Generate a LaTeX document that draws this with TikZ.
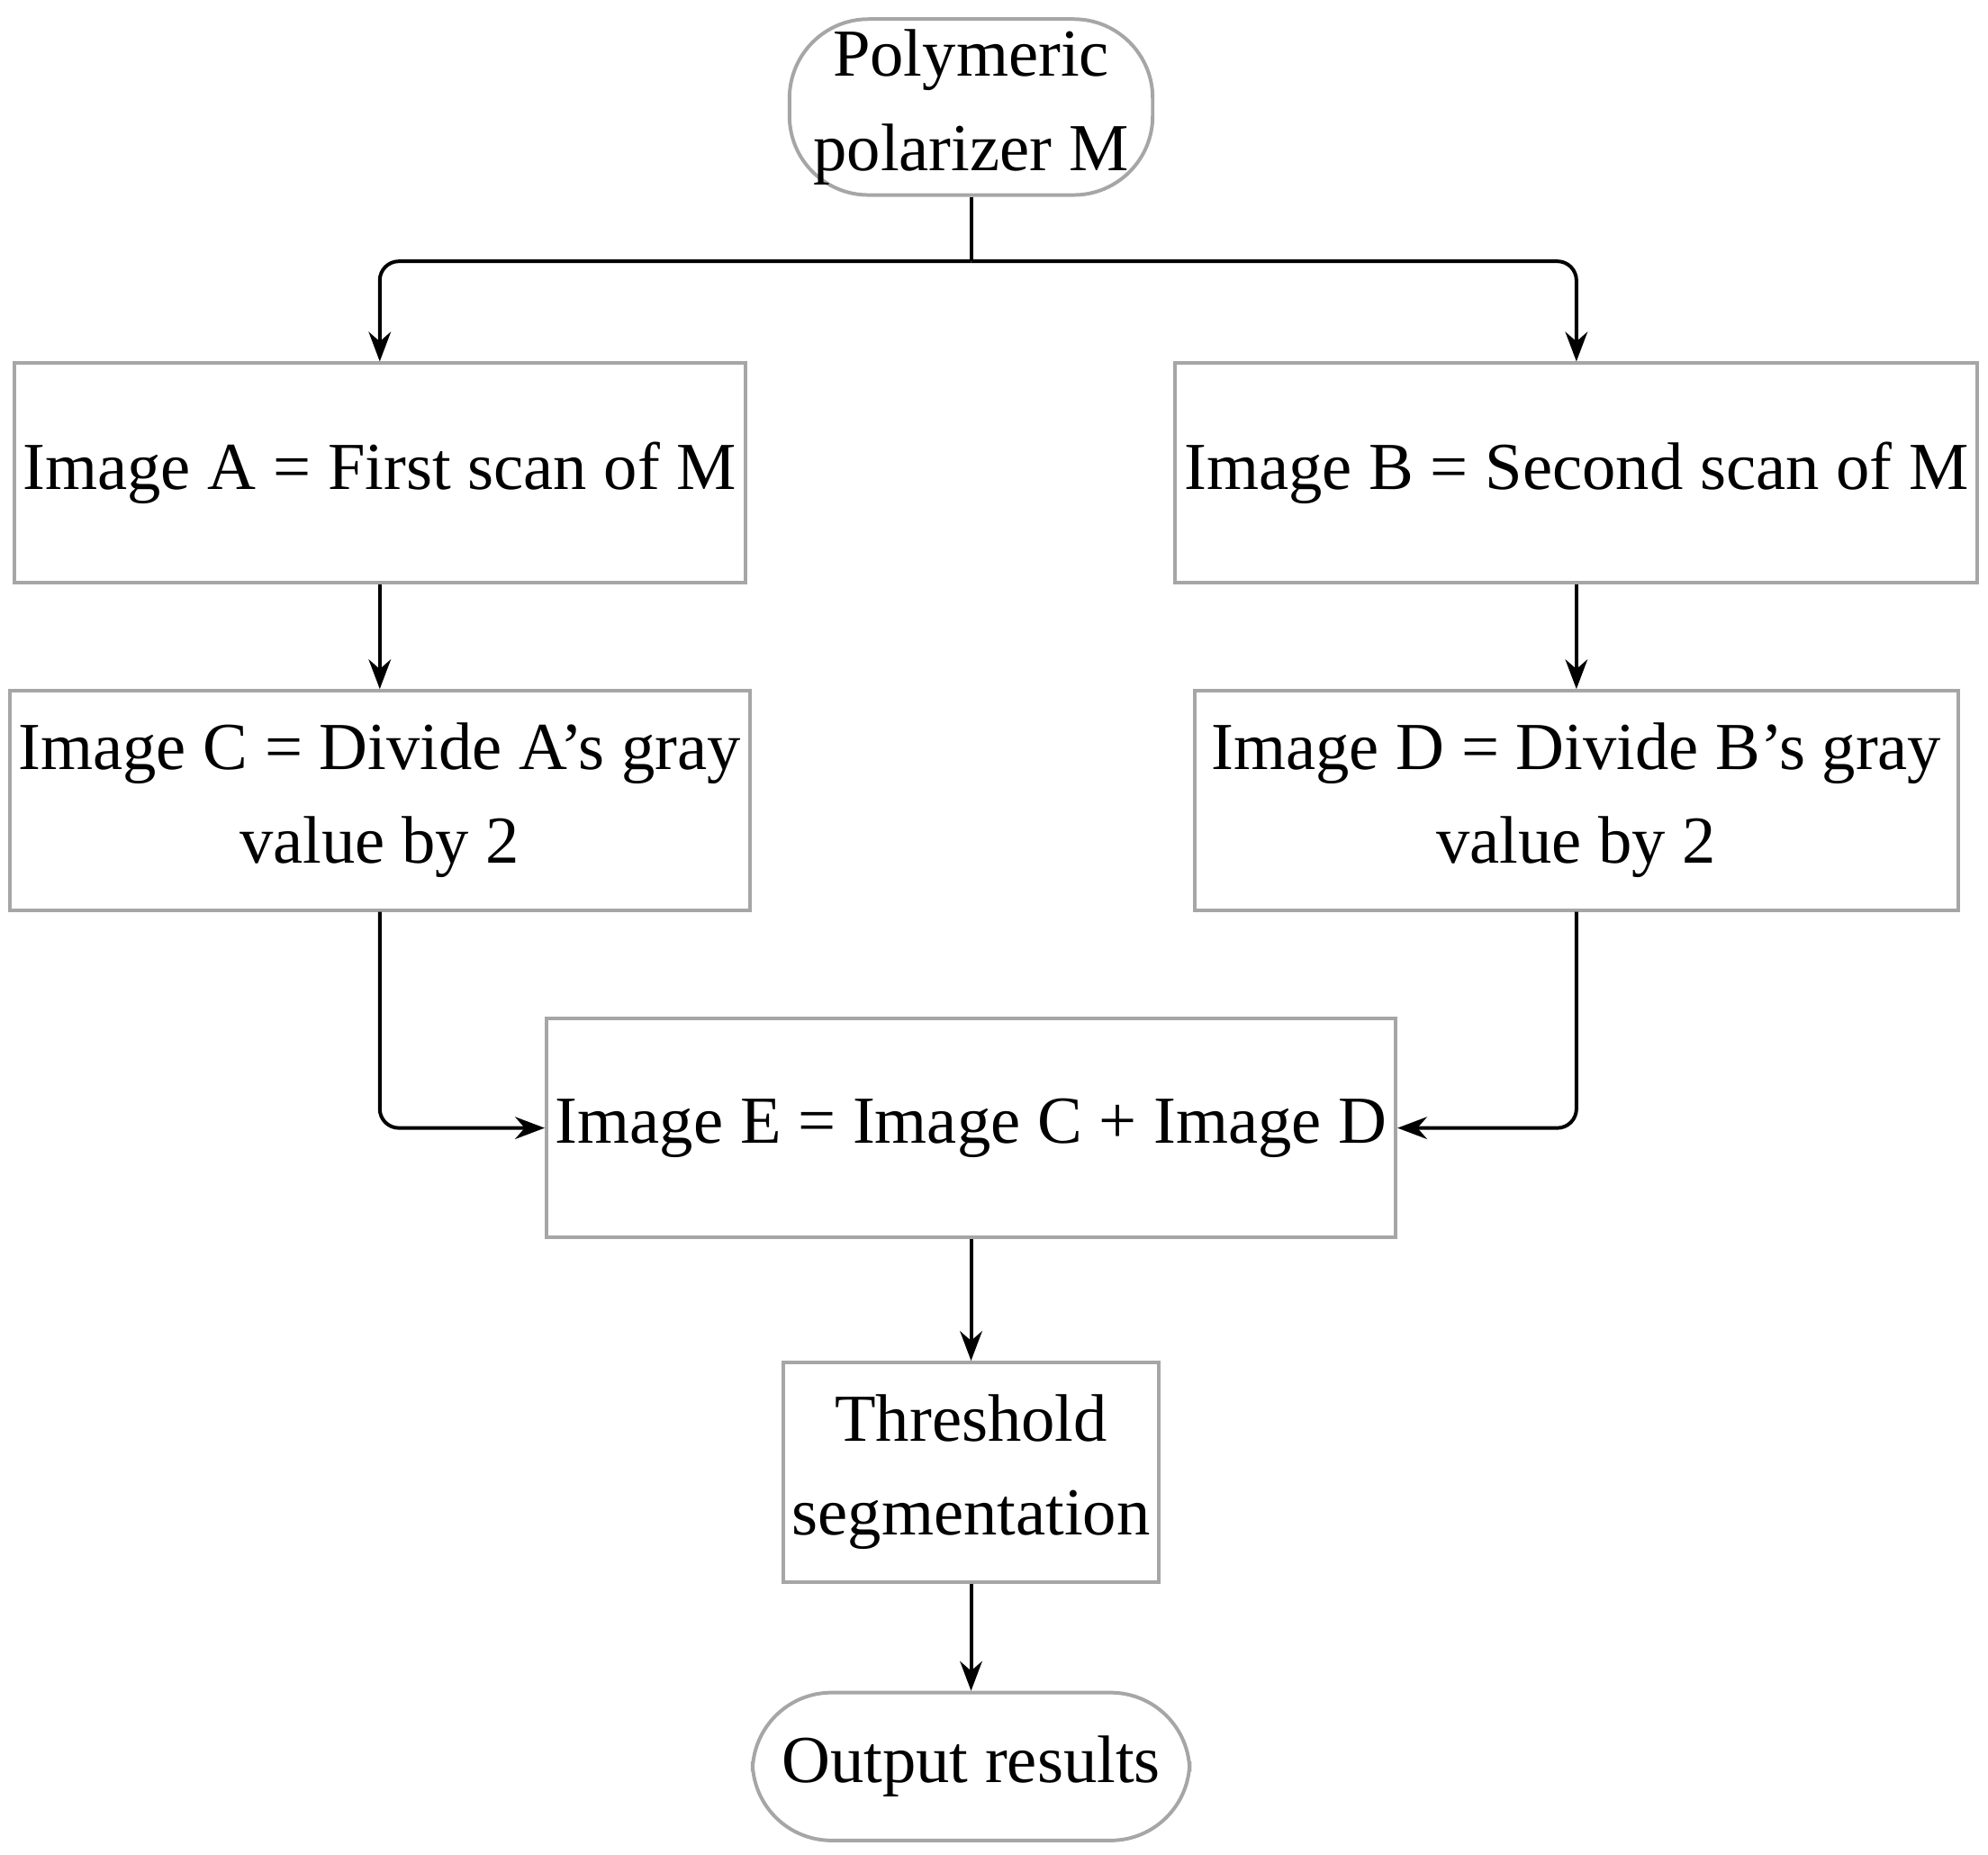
\documentclass[tikz,border=0pt]{standalone}
\usepackage{fontspec}
\setmainfont{Liberation Serif}
\usetikzlibrary{arrows.meta, positioning}

\begin{document}
\begin{tikzpicture}[->, >=Stealth, thick]

  % Stili dei nodi
  \tikzstyle{procbox} = [rectangle, draw=gray!70, fill=none, align=center, font=\fontsize{15}{21}\selectfont, inner sep=2pt]
  \tikzstyle{termbox} = [procbox, rounded corners=0.62cm]

  \useasboundingbox (0,0) rectangle (15.6,-14.55);

  % Nodi
  \node[termbox, minimum width=2.85cm, minimum height=1.38cm] (m) at (7.62,-0.84) {Polymeric\\polarizer M};
  \node[procbox, minimum width=5.49cm, minimum height=1.72cm] (a) at (2.98,-3.71) {Image A = First scan of M};
  \node[procbox, minimum width=5.99cm, minimum height=1.72cm] (b) at (12.37,-3.71) {Image B = Second scan of M};
  \node[procbox, minimum width=5.49cm, minimum height=1.72cm] (c) at (2.98,-6.28) {Image C = Divide A's gray\\value by 2};
  \node[procbox, minimum width=5.99cm, minimum height=1.72cm] (d) at (12.37,-6.28) {Image D = Divide B's gray\\value by 2};
  \node[procbox, minimum width=6.31cm, minimum height=1.72cm] (e) at (7.62,-8.85) {Image E = Image C + Image D};
  \node[procbox, minimum width=2.87cm, minimum height=1.72cm] (t) at (7.62,-11.55) {Threshold\\segmentation};
  \node[termbox, minimum width=3.43cm, minimum height=1.16cm] (o) at (7.62,-13.86) {Output results};
  \coordinate (split) at (7.62,-2.05);

  % Frecce
  \draw[-, rounded corners=0.15cm] (m.south) -- (split);
  \draw[rounded corners=0.15cm] (split) -| (a.north);
  \draw[rounded corners=0.15cm] (split) -| (b.north);
  \draw (a) -- (c);
  \draw (b) -- (d);
  \draw[rounded corners=0.15cm] (c.south) |- (e.west);
  \draw[rounded corners=0.15cm] (d.south) |- (e.east);
  \draw (e) -- (t);
  \draw (t) -- (o);

\end{tikzpicture}
\end{document}
